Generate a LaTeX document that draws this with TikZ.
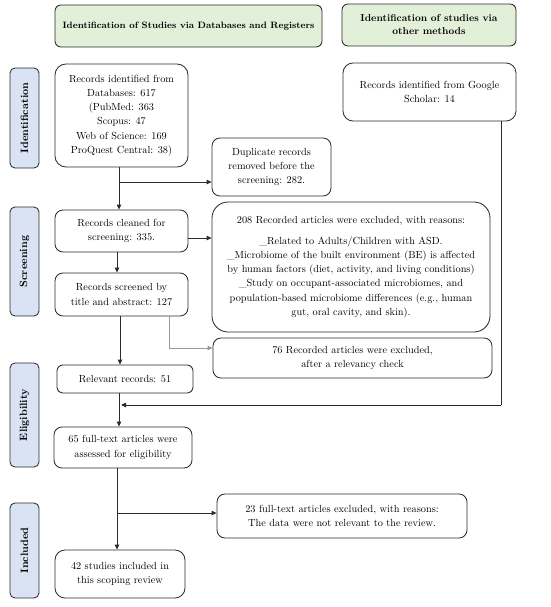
\documentclass[tikz,border=0pt]{standalone}
\usetikzlibrary{arrows.meta}
\definecolor{hdrgreen}{HTML}{E2EFD9}
\definecolor{sideblue}{HTML}{DAE3F3}
\definecolor{lineclr}{HTML}{2B2B2B}
\definecolor{greyline}{HTML}{9A9A9A}
\begin{document}
\begin{tikzpicture}[x=1pt,y=-1pt,
  box/.style={draw=lineclr, line width=0.85pt, rounded corners=8pt, fill=white, align=center, inner sep=2pt, font=\fontsize{10.3}{14.2}\selectfont},
  hdr/.style={draw=lineclr, line width=0.85pt, rounded corners=6pt, fill=hdrgreen, align=center, inner sep=2pt, font=\fontsize{9.2}{12.5}\selectfont\bfseries},
  side/.style={draw=lineclr, line width=0.85pt, rounded corners=5pt, fill=sideblue, align=center, inner sep=2pt, rotate=90, minimum height=29pt, font=\fontsize{10.6}{12}\selectfont\bfseries},
  arr/.style={draw=lineclr, line width=0.85pt, -{Triangle[length=5pt,width=4.5pt]}},
  ln/.style={draw=lineclr, line width=0.85pt}
]
\useasboundingbox (0,0) rectangle (550,607);
% headers
\node[hdr, minimum width=267pt, minimum height=42pt] (h1) at (188.5,26) {Identification of Studies via Databases and Registers};
\node[hdr, minimum width=174pt, minimum height=42pt, font=\fontsize{10}{13}\selectfont\bfseries] (h2) at (429,25) {Identification of studies via\\other methods};
% side labels
\node[side, minimum width=100pt] (s1) at (24.5,118) {Identification};
\node[side, minimum width=109pt] (s2) at (24.5,261.5) {Screening};
\node[side, minimum width=104pt] (s3) at (24.5,415) {Eligibility};
\node[side, minimum width=95pt] (s4) at (24.5,550.5) {Included};
% boxes
\node[box, rounded corners=11pt, minimum width=133pt, minimum height=103pt] (A) at (121.5,115.5) {Records identified from\\Databases: 617\\(PubMed: 363\\Scopus: 47\\Web of Science: 169\\ProQuest Central: 38)};
\node[box, rounded corners=10pt, minimum width=173pt, minimum height=58pt] (G) at (429.5,92) {Records identified from Google\\Scholar: 14};
\node[box, minimum width=119pt, minimum height=58pt] (D) at (271.5,167) {Duplicate records\\removed before the\\screening: 282.};
\node[box, minimum width=133pt, minimum height=42pt] (C) at (121.5,231) {Records cleaned for\\screening: 335.};
\node[box, rounded corners=16pt, minimum width=278pt, minimum height=130pt] (E) at (351,267) {208 Recorded articles were excluded, with reasons:\\[7pt]\_Related to Adults/Children with ASD.\\\_Microbiome of the built environment (BE) is affected\\by human factors (diet, activity, and living conditions)\\\_Study on occupant-associated microbiomes, and\\population-based microbiome differences (e.g., human\\gut, oral cavity, and skin).};
\node[box, minimum width=133pt, minimum height=43pt] (S) at (121.5,294.5) {Records screened by\\title and abstract: 127};
\node[box, minimum width=279pt, minimum height=40pt] (X) at (352.5,358) {76 Recorded articles were excluded,\\after a relevancy check};
\node[box, rounded corners=6pt, minimum width=136pt, minimum height=28pt] (R) at (125,379) {Relevant records: 51};
\node[box, minimum width=138pt, minimum height=41pt] (F) at (123,447.5) {65 full-text articles were\\assessed for eligibility};
\node[box, minimum width=250pt, minimum height=44pt] (T) at (342,516) {23 full-text articles excluded, with reasons:\\The data were not relevant to the review.};
\node[box, rounded corners=10pt, minimum width=130pt, minimum height=48pt] (I) at (120,574) {42 studies included in\\this scoping review};
% connectors
\coordinate (j1) at (119,182);
\draw[arr] ([xshift=-2.5pt]A.south) -- ([xshift=-2.5pt]A.south |- C.north);
\draw[arr] (j1) -- (j1 -| D.west);
\draw[arr] (C.east |- 0,238) -- (E.west |- 0,238);
\draw[arr] ([xshift=-4.5pt]C.south) -- ([xshift=-4.5pt]C.south |- S.north);
\draw[arr] ([xshift=-1.5pt]S.south) -- ([xshift=-1.5pt]S.south |- R.north);
\coordinate (g1) at (169,348);
\draw[draw=greyline, line width=0.85pt] (S.south -| g1) -- (g1);
\draw[arr, draw=greyline] (g1) -- (g1 -| X.west);
\draw[arr] (R.south -| 119,0) -- (F.north -| 119,0);
\coordinate (g2) at (501,405);
\draw[ln] (G.south -| g2) -- (g2);
\draw[arr] (g2) -- (121,405);
\coordinate (j2) at (117,513);
\draw[arr] (F.south -| j2) -- (I.north -| j2);
\draw[arr] (j2) -- (j2 -| T.west);
\end{tikzpicture}
\end{document}
